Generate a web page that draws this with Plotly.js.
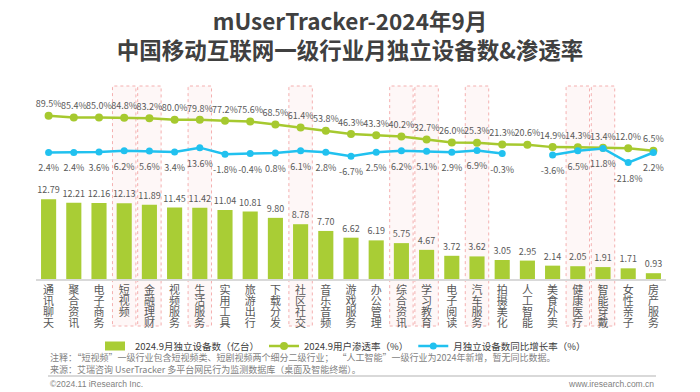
<!DOCTYPE html>
<html>
<head>
<meta charset="utf-8">
<script src="https://cdn.plot.ly/plotly-3.0.1.min.js"></script>
<style>html,body{margin:0;padding:0;background:#fff;}</style>
</head>
<body>
<div id="chart" style="width:700px;height:392px;"></div>
<script>
// ---- data ----
const categories = ["通讯聊天","聚合资讯","电子商务","短视频","金融理财","视频服务","生活服务","实用工具","旅游出行","下载分发","社区社交","音乐音频","游戏服务","办公管理","综合资讯","学习教育","电子阅读","汽车服务","拍摄美化","人工智能","美食外卖","健康医疗","智能穿戴","女性亲子","房产服务"];
const devices = [12.79,12.21,12.16,12.13,11.89,11.45,11.42,11.04,10.81,9.80,8.78,7.70,6.62,6.19,5.75,4.67,3.72,3.62,3.05,2.95,2.14,2.05,1.91,1.71,0.93];
const penetration = [89.5,85.4,85.0,84.8,83.2,80.0,79.8,77.2,75.6,68.5,61.4,53.8,46.3,43.3,40.2,32.7,26.0,25.3,21.3,20.6,14.9,14.3,13.4,12.0,6.5];
const yoyGrowth = [2.4,2.4,3.6,6.2,5.6,3.4,13.6,-1.8,-0.4,0.8,6.1,2.8,-6.7,2.5,6.2,5.1,2.9,6.9,-0.3,null,-3.6,6.5,11.8,-21.8,2.2];
const highlighted = ["短视频","金融理财","生活服务","社区社交","综合资讯","学习教育","汽车服务","健康医疗","智能穿戴"];
const seriesNames = ["2024.9月独立设备数（亿台）","2024.9用户渗透率（%）","月独立设备数同比增长率（%）"];
const titleText = "mUserTracker-2024年9月<br>中国移动互联网一级行业月独立设备数&amp;渗透率";
const noteText = "注释：“短视频”一级行业包含短视频类、短剧视频两个细分二级行业；  “人工智能”一级行业为2024年新增，暂无同比数据。";
const sourceText = "来源：艾瑞咨询 UserTracker 多平台网民行为监测数据库（桌面及智能终端）。";
const copyrightText = "©2024.11 iResearch Inc.";
const siteText = "www.iresearch.com.cn";

// ---- styling / layout ----
const W = 700, H = 392;
const PL = 36, PR = 666, PT = 80, PB = 279;
const px2x = p => (p - PL) / (PR - PL);
const px2y = p => (PB - p) / (PB - PT);
const FONT = "'Noto Sans CJK SC', 'Noto Sans', sans-serif";
const GREEN = "#a9cd35", LGREEN = "#a6c92f", BLUE = "#21c1ef", TXT = "#595959";

const tickText = categories.map(c => c.split('').join('<br>'));
const pct = v => (v === null ? '' : v.toFixed(1) + '%');

const traces = [
  {
    type: 'bar', name: seriesNames[0], x: categories, y: devices,
    marker: {color: GREEN}, width: 0.6,
    text: devices.map(v => v.toFixed(2)), textposition: 'outside', constraintext: 'none',
    textfont: {family: FONT, size: 9, color: TXT}, cliponaxis: false,
    hoverinfo: 'skip'
  },
  {
    type: 'scatter', mode: 'lines+markers+text', name: seriesNames[1],
    x: categories, y: penetration, yaxis: 'y2',
    line: {color: LGREEN, width: 2.5}, marker: {color: LGREEN, size: 8},
    text: penetration.map(pct), textposition: 'top center',
    textfont: {family: FONT, size: 9, color: TXT}, cliponaxis: false,
    hoverinfo: 'skip'
  },
  {
    type: 'scatter', mode: 'lines+markers', name: seriesNames[2],
    x: categories, y: yoyGrowth, yaxis: 'y2',
    line: {color: BLUE, width: 2.5}, marker: {color: BLUE, size: 7},
    cliponaxis: false, connectgaps: false, hoverinfo: 'skip'
  },
  {
    // labels for the growth-rate line (invisible markers give a larger text offset)
    type: 'scatter', mode: 'markers+text', showlegend: false,
    x: categories, y: yoyGrowth, yaxis: 'y2',
    marker: {size: 18, opacity: 0, color: BLUE},
    text: yoyGrowth.map(pct), textposition: 'bottom center',
    textfont: {family: FONT, size: 9, color: TXT}, cliponaxis: false, hoverinfo: 'skip'
  }
];

const shapes = highlighted.map(c => {
  const i = categories.indexOf(c);
  return {
    type: 'rect', layer: 'below', xref: 'x', yref: 'paper',
    x0: i - 0.465, x1: i + 0.465, y0: px2y(326), y1: px2y(86),
    fillcolor: 'rgba(252,228,228,0.28)',
    line: {color: '#f4b0b0', width: 1, dash: 'dot'}
  };
});
shapes.push({
  type: 'line', xref: 'paper', yref: 'paper',
  x0: px2x(48), x1: px2x(656), y0: px2y(376), y1: px2y(376),
  line: {color: '#d9d9d9', width: 2}
});

const layout = {
  width: W, height: H,
  margin: {l: PL, r: W - PR, t: PT, b: H - PB, pad: 0},
  paper_bgcolor: '#fff', plot_bgcolor: 'rgba(0,0,0,0)',
  font: {family: FONT, color: TXT},
  title: {
    text: titleText, font: {family: FONT, size: 22.5, color: '#404040', weight: 'bold'},
    x: 0.5, xanchor: 'center', xref: 'container', y: 1 - 30 / H, yref: 'container', yanchor: 'top'
  },
  showlegend: true,
  legend: {
    orientation: 'h', xref: 'container', yref: 'container',
    x: 0.49, xanchor: 'center', y: 1 - 346 / H, yanchor: 'middle',
    font: {family: FONT, size: 9.5, color: '#404040'}, itemwidth: 30,
    bgcolor: 'rgba(0,0,0,0)'
  },
  xaxis: {
    type: 'category', range: [-0.5, categories.length - 0.5],
    tickmode: 'array', tickvals: categories, ticktext: tickText,
    tickfont: {family: FONT, size: 11, color: TXT},
    showline: true, linecolor: '#d9d9d9', linewidth: 2,
    ticks: '', showgrid: false, zeroline: false, automargin: false, fixedrange: true
  },
  yaxis: {
    range: [0, (PB - PT) / 6.24], visible: false, showgrid: false, zeroline: false, fixedrange: true
  },
  yaxis2: {
    overlaying: 'y', side: 'right',
    range: [-(PB - 153.4) / 0.4217, (153.4 - PT) / 0.4217],
    visible: false, showgrid: false, zeroline: false, fixedrange: true
  },
  shapes: shapes,
  annotations: [
    {text: noteText, xref: 'paper', yref: 'paper', x: px2x(48), y: px2y(357), xanchor: 'left', yanchor: 'middle',
     showarrow: false, font: {family: FONT, size: 9, color: '#7f7f7f'}},
    {text: sourceText, xref: 'paper', yref: 'paper', x: px2x(48), y: px2y(369), xanchor: 'left', yanchor: 'middle',
     showarrow: false, font: {family: FONT, size: 9, color: '#7f7f7f'}},
    {text: copyrightText, xref: 'paper', yref: 'paper', x: px2x(48), y: px2y(384), xanchor: 'left', yanchor: 'middle',
     showarrow: false, font: {family: "'Liberation Sans', Arial, sans-serif", size: 8.5, color: '#7f7f7f'}},
    {text: siteText, xref: 'paper', yref: 'paper', x: px2x(656), y: px2y(384), xanchor: 'right', yanchor: 'middle',
     showarrow: false, font: {family: "'Liberation Sans', Arial, sans-serif", size: 8.5, color: '#7f7f7f'}}
  ]
};

function polish() {
  document.querySelectorAll('#chart .xtick text tspan.line').forEach(t => {
    const dy = t.getAttribute('dy');
    if (dy && !t.dataset.tight) {
      const n = parseFloat(dy) / 1.3;
      t.setAttribute('dy', (n * 1.0) + 'em');
      t.dataset.tight = '1';
    }
  });
  // wide, flat swatch for the bar series in the legend
  const firstItem = document.querySelector('#chart .legend .traces');
  if (firstItem) {
    const p = firstItem.querySelector('.legendpoints path');
    if (p) p.setAttribute('d', 'M10,4.5H-10V-4.5H10Z');
  }
}

const gd = document.getElementById('chart');
Plotly.newPlot(gd, traces, layout, {staticPlot: true, displayModeBar: false}).then(() => {
  polish();
  gd.on('plotly_afterplot', polish);
});
</script>
</body>
</html>
